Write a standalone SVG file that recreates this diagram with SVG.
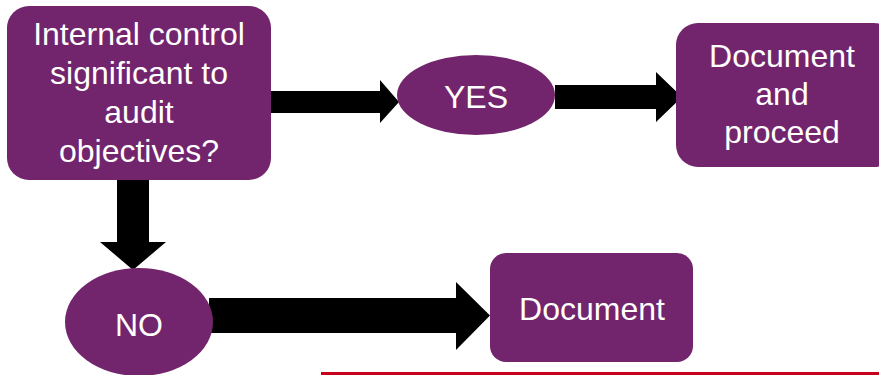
<svg xmlns="http://www.w3.org/2000/svg" width="879" height="375" viewBox="0 0 879 375">
<style>
.n{fill:#72256C}
.t{fill:#ffffff;font-family:"Liberation Sans",Arial,sans-serif;font-size:32px;text-anchor:middle}
.a{fill:#000000}
</style>
<rect width="879" height="375" fill="#ffffff"/>
<g id="connectors">
<polygon class="a" points="271,91 380,91 380,80 399,102 380,123 380,113 271,113"/>
<polygon class="a" points="555,85 656,85 656,72 682,97 656,122 656,109 555,109"/>
<polygon class="a" points="117,180 149,180 149,242 166,242 133,270 100,242 117,242"/>
<polygon class="a" points="209,298 456,298 456,282 490,315.5 456,350 456,333 209,333"/>
</g>
<g id="question">
<rect class="n" x="7" y="6" width="264" height="174" rx="22"/>
<text class="t" x="139" y="45">Internal control</text>
<text class="t" x="139" y="84">significant to</text>
<text class="t" x="139" y="123">audit</text>
<text class="t" x="139" y="162">objectives?</text>
</g>
<g id="yes">
<ellipse class="n" cx="476" cy="95" rx="79" ry="40"/>
<text class="t" x="476" y="108">YES</text>
</g>
<g id="proceed">
<rect class="n" x="676" y="23" width="220" height="144" rx="22"/>
<text class="t" x="782" y="67">Document</text>
<text class="t" x="782" y="105">and</text>
<text class="t" x="782" y="143">proceed</text>
</g>
<g id="no">
<ellipse class="n" cx="139" cy="322" rx="74" ry="54"/>
<text class="t" x="139" y="336">NO</text>
</g>
<g id="document">
<rect class="n" x="490" y="253" width="203" height="109" rx="16"/>
<text class="t" x="592" y="320">Document</text>
</g>
<rect x="321" y="372" width="558" height="3" fill="#C8001A"/>
</svg>
